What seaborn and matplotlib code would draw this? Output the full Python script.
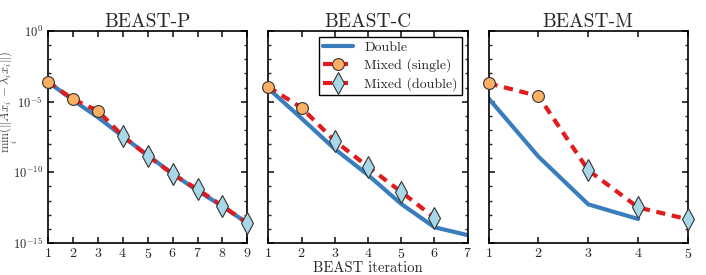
import numpy as np
import pandas as pd
import matplotlib
matplotlib.use('Agg')
import matplotlib.pyplot as plt
import seaborn as sns
from matplotlib.lines import Line2D
from matplotlib.ticker import FixedLocator, NullFormatter

# residual values
titles = ['BEAST-P', 'BEAST-C', 'BEAST-M']

double_p = [2.5e-4, 1.3e-5, 8e-7, 3.5e-8, 1.6e-9, 8e-11, 5e-12, 4e-13, 2.5e-14]
mixed_p = [2.6e-4, 1.5e-5, 2.3e-6, 3.7e-8, 1.5e-9, 7.6e-11, 6.3e-12, 4.2e-13, 2.5e-14]
n_single_p = 3

double_c = [8.7e-5, 6.6e-7, 4.5e-9, 6.5e-11, 5.8e-13, 1.3e-14, 3.6e-15]
mixed_c = [1.15e-4, 3.7e-6, 1.7e-8, 2.5e-10, 4.1e-12, 6.2e-14]
n_single_c = 2

double_m = [1.7e-5, 1.3e-9, 5.4e-13, 5e-14]
mixed_m = [2e-4, 2.5e-5, 1.4e-10, 3.3e-13, 4.7e-14]
n_single_m = 2

panels = [
    (double_p, mixed_p, n_single_p, 9),
    (double_c, mixed_c, n_single_c, 7),
    (double_m, mixed_m, n_single_m, 5),
]

blue = '#3a7dbd'
red = '#e31a1c'
orange = '#fdb064'
lightblue = '#a8d8e8'
dash = (2.2, 1.6)

sns.set_theme(style='ticks', rc={
    'xtick.direction': 'in', 'ytick.direction': 'in',
    'xtick.top': True, 'ytick.right': True,
    'axes.edgecolor': 'black', 'axes.linewidth': 1.2,
    'xtick.major.size': 4, 'ytick.major.size': 4,
    'ytick.minor.size': 2.5,
})
plt.rcParams['font.family'] = ['cmr10', 'DejaVu Serif']
plt.rcParams['mathtext.fontset'] = 'cm'
plt.rcParams['axes.formatter.use_mathtext'] = True
plt.rcParams['axes.unicode_minus'] = False

fig, axes = plt.subplots(1, 3, figsize=(7.06, 2.75), dpi=100, sharey=True)
fig.subplots_adjust(left=0.068, right=0.9745, top=0.887, bottom=0.1164, wspace=0.105)

for ax, title, (dbl, mix, n_single, xmax) in zip(axes, titles, panels):
    df_d = pd.DataFrame({'it': np.arange(1, len(dbl) + 1), 'res': dbl})
    df_m = pd.DataFrame({'it': np.arange(1, len(mix) + 1), 'res': mix})
    sns.lineplot(data=df_d, x='it', y='res', ax=ax, color=blue, lw=3, zorder=2)
    sns.lineplot(data=df_m, x='it', y='res', ax=ax, color=red, lw=3, zorder=3,
                 linestyle=(0, dash))
    ax.plot(df_m['it'][:n_single], df_m['res'][:n_single], 'o', ms=8.5,
            mfc=orange, mec='#333333', mew=0.8, zorder=4, clip_on=False)
    ax.plot(df_m['it'][n_single:], df_m['res'][n_single:], 'd', ms=11,
            mfc=lightblue, mec='#333333', mew=0.8, zorder=4, clip_on=False)
    ax.set_yscale('log')
    ax.set_ylim(1e-15, 1)
    ax.set_xlim(1, xmax)
    ax.set_xticks(range(1, xmax + 1))
    ax.yaxis.set_major_locator(FixedLocator([1e-15, 1e-10, 1e-5, 1]))
    ax.yaxis.set_minor_locator(FixedLocator([10.0 ** k for k in range(-15, 1)]))
    ax.yaxis.set_minor_formatter(NullFormatter())
    ax.set_title(title, fontsize=14, pad=3)
    ax.set_xlabel('')
    ax.set_ylabel('')
    ax.tick_params(axis='y', labelsize=9, pad=3.5)
    ax.tick_params(axis='x', labelsize=10, pad=3)

axes[0].set_ylabel(r'$\min_i(\|Ax_i - \lambda_i x_i\|)$', fontsize=9, color='#444444')
axes[0].yaxis.set_label_coords(-0.14, 0.665)
axes[1].set_xlabel('BEAST iteration', fontsize=10.5, labelpad=0)

handles = [
    Line2D([], [], color=blue, lw=3),
    Line2D([], [], color=red, lw=3, dashes=dash, marker='o', ms=8.5,
           mfc=orange, mec='#333333', mew=0.8),
    Line2D([], [], color=red, lw=3, dashes=dash, marker='d', ms=11,
           mfc=lightblue, mec='#333333', mew=0.8),
]
leg = axes[1].legend(handles, ['Double', 'Mixed (single)', 'Mixed (double)'],
                     loc='upper right', fontsize=10, fancybox=False, framealpha=1,
                     edgecolor='black', handlelength=2.2, borderaxespad=0.4,
                     labelspacing=0.35, borderpad=0.3)
leg.get_frame().set_linewidth(1.0)

fig.savefig('out.png', dpi=100)
